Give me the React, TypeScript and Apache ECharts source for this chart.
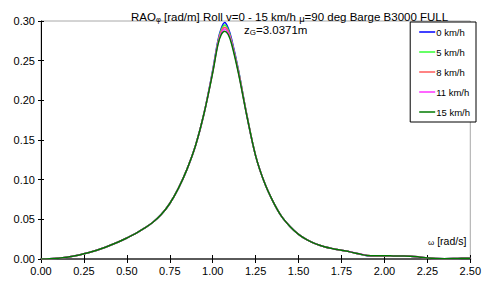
import React, { useEffect, useRef } from 'react';
import * as echarts from 'echarts';

// Wave frequency ω [rad/s]
const omega = [
  0, 0.05, 0.1, 0.15, 0.2, 0.25, 0.3, 0.35, 0.4, 0.45, 0.5, 0.55, 0.6, 0.65, 0.7, 0.75, 0.8, 0.85, 0.9, 0.95,
  1.0, 1.03, 1.05, 1.07, 1.09, 1.11, 1.15, 1.2, 1.25, 1.3, 1.35, 1.4, 1.45, 1.5, 1.55, 1.6, 1.65, 1.7, 1.75,
  1.8, 1.85, 1.9, 1.95, 2.0, 2.05, 2.1, 2.15, 2.2, 2.25, 2.3, 2.35, 2.4, 2.45, 2.5,
];

// Roll RAO [rad/m] per forward speed
const rao0 = [
  0.0, 0.0003, 0.001, 0.0022, 0.004, 0.0065, 0.0095, 0.013, 0.017, 0.0215, 0.0265, 0.032, 0.0385, 0.046, 0.056, 0.07, 0.089, 0.113, 0.143, 0.184,
  0.238, 0.275, 0.291, 0.298, 0.291, 0.277, 0.238, 0.18, 0.13, 0.097, 0.073, 0.054, 0.041, 0.031, 0.024, 0.019, 0.0155, 0.013, 0.011,
  0.009, 0.0065, 0.0042, 0.0038, 0.0038, 0.0038, 0.0037, 0.0035, 0.0025, 0.0012, 0.0005, 0.0004, 0.0005, 0.0008, 0.001,
];
const rao5 = [
  0.0, 0.0003, 0.001, 0.0022, 0.004, 0.0065, 0.0095, 0.013, 0.017, 0.0215, 0.0265, 0.032, 0.0385, 0.046, 0.056, 0.07, 0.089, 0.113, 0.143, 0.184,
  0.237, 0.273, 0.289, 0.295, 0.289, 0.275, 0.237, 0.18, 0.13, 0.097, 0.073, 0.054, 0.041, 0.031, 0.024, 0.019, 0.0155, 0.013, 0.011,
  0.009, 0.0065, 0.0043, 0.0039, 0.0039, 0.0038, 0.0037, 0.0035, 0.0025, 0.0012, 0.0005, 0.0004, 0.0005, 0.0008, 0.001,
];
const rao8 = [
  0.0, 0.0003, 0.001, 0.0022, 0.004, 0.0065, 0.0095, 0.013, 0.017, 0.0215, 0.0265, 0.032, 0.0385, 0.046, 0.056, 0.07, 0.089, 0.113, 0.143, 0.184,
  0.236, 0.272, 0.287, 0.292, 0.287, 0.274, 0.236, 0.18, 0.13, 0.097, 0.073, 0.054, 0.041, 0.031, 0.024, 0.019, 0.0155, 0.013, 0.011,
  0.009, 0.0066, 0.0044, 0.004, 0.004, 0.0039, 0.0038, 0.0036, 0.0026, 0.0012, 0.0005, 0.0004, 0.0005, 0.0008, 0.001,
];
const rao11 = [
  0.0, 0.0003, 0.001, 0.0022, 0.004, 0.0065, 0.0095, 0.013, 0.017, 0.0215, 0.0265, 0.032, 0.0385, 0.046, 0.056, 0.07, 0.089, 0.113, 0.143, 0.184,
  0.236, 0.271, 0.285, 0.29, 0.285, 0.273, 0.235, 0.179, 0.13, 0.097, 0.073, 0.054, 0.041, 0.031, 0.024, 0.019, 0.0155, 0.013, 0.011,
  0.009, 0.0067, 0.0045, 0.0041, 0.004, 0.0039, 0.0038, 0.0036, 0.0026, 0.0013, 0.0005, 0.0004, 0.0005, 0.0008, 0.001,
];
const rao15 = [
  0.0, 0.0003, 0.001, 0.0022, 0.004, 0.0065, 0.0095, 0.013, 0.017, 0.0215, 0.0265, 0.032, 0.0385, 0.046, 0.056, 0.07, 0.089, 0.113, 0.143, 0.184,
  0.235, 0.27, 0.283, 0.287, 0.283, 0.271, 0.234, 0.179, 0.13, 0.097, 0.073, 0.054, 0.041, 0.031, 0.024, 0.019, 0.0155, 0.013, 0.011,
  0.009, 0.0066, 0.0044, 0.004, 0.004, 0.0039, 0.0038, 0.0036, 0.0026, 0.0012, 0.0005, 0.0004, 0.0005, 0.0008, 0.001,
];

const seriesNames = ['0 km/h', '5 km/h', '8 km/h', '11 km/h', '15 km/h'];
const seriesValues = [rao0, rao5, rao8, rao11, rao15];
const seriesColors = ['#0000ff', '#33ff33', '#ff5a5a', '#ff33ff', '#007a00'];

const xMin = 0;
const xMax = 2.5;
const xStep = 0.25;
const yMin = 0;
const yMax = 0.3;
const yStep = 0.05;

const FONT = '"Liberation Sans", Arial, Helvetica, sans-serif';

export default function App() {
  const ref = useRef<HTMLDivElement>(null);

  useEffect(() => {
    if (!ref.current) return;
    const chart = echarts.init(ref.current, undefined, { renderer: 'svg' });

    const series = seriesNames.map((name, i) => ({
      name,
      type: 'line',
      xAxisIndex: 0,
      yAxisIndex: 0,
      data: omega.map((w, j) => [w, seriesValues[i][j]]),
      symbol: 'none',
      smooth: 0.35,
      color: seriesColors[i],
      lineStyle: { width: 1.5, color: seriesColors[i] },
      z: 3 + i,
    }));

    const baseX = {
      type: 'value',
      min: xMin,
      max: xMax,
      interval: xStep,
      position: 'bottom',
      splitLine: { show: false },
    };
    const baseY = {
      type: 'value',
      min: yMin,
      max: yMax,
      interval: yStep,
      position: 'left',
      splitLine: { show: false },
    };

    chart.setOption({
      animation: false,
      backgroundColor: '#ffffff',
      textStyle: { fontFamily: FONT },
      title: {
        left: 126,
        top: 4,
        text: '{a|RAO}{b|φ}{a| [rad/m] Roll v=0 - 15 km/h }{m|μ}{a|=90 deg Barge B3000 FULL}',
        textStyle: {
          fontWeight: 'normal',
          rich: {
            a: { fontSize: 11.5, fontWeight: 'normal', fontFamily: FONT, color: '#000', lineHeight: 14, verticalAlign: 'bottom' },
            b: { fontSize: 7.5, fontWeight: 'normal', fontFamily: FONT, color: '#000', lineHeight: 8, verticalAlign: 'bottom' },
            m: { fontSize: 9.5, fontWeight: 'normal', fontFamily: FONT, color: '#000', lineHeight: 11, verticalAlign: 'bottom' },
          },
        },
      },
      legend: {
        orient: 'vertical',
        right: 8,
        top: 22,
        data: seriesNames,
        icon: 'rect',
        backgroundColor: '#ffffff',
        borderColor: '#000000',
        borderWidth: 1,
        borderRadius: 0,
        padding: [5, 6, 5, 9],
        itemWidth: 16,
        itemHeight: 1.5,
        itemGap: 10,
        textStyle: { fontSize: 9.5, lineHeight: 10, color: '#000', fontFamily: FONT, padding: [0, 0, 0, -4] },
      },
      grid: {
        left: 41,
        right: 10,
        top: 21,
        bottom: 23,
        show: true,
        borderColor: '#a8a8a8',
        borderWidth: 1,
        backgroundColor: 'transparent',
      },
      xAxis: [
        {
          ...baseX,
          axisLine: { show: true, lineStyle: { color: '#5a5a5a', width: 2 } },
          axisTick: { show: true, inside: false, length: 4, lineStyle: { color: '#000', width: 1 } },
          axisLabel: {
            show: true,
            margin: 6,
            fontSize: 11,
            color: '#000',
            fontFamily: FONT,
            formatter: (v: number) => v.toFixed(2),
          },
        },
        {
          ...baseX,
          axisLine: { show: false },
          axisTick: { show: true, inside: true, length: 4, lineStyle: { color: '#000', width: 1 } },
          axisLabel: { show: false },
        },
      ],
      yAxis: [
        {
          ...baseY,
          axisLine: { show: true, lineStyle: { color: '#000', width: 1 } },
          axisTick: { show: true, inside: false, length: 3, lineStyle: { color: '#000', width: 1 } },
          axisLabel: {
            show: true,
            margin: 6,
            fontSize: 11,
            color: '#000',
            fontFamily: FONT,
            formatter: (v: number) => v.toFixed(2),
          },
        },
        {
          ...baseY,
          axisLine: { show: false },
          axisTick: { show: true, inside: true, length: 3, lineStyle: { color: '#000', width: 1 } },
          axisLabel: { show: false },
        },
      ],
      graphic: [
        {
          type: 'text',
          left: 244,
          top: 24,
          z: 10,
          style: {
            text: '{a|z}{b|G}{a|=3.0371m}',
            rich: {
              a: { fontSize: 11.5, fontFamily: FONT, fill: '#000', lineHeight: 14, verticalAlign: 'bottom' },
              b: { fontSize: 8, fontFamily: FONT, fill: '#000', lineHeight: 9, verticalAlign: 'bottom' },
            },
          },
        },
        {
          type: 'text',
          left: 428,
          top: 235,
          z: 10,
          style: {
            text: '{w|ω}{a| [rad/s]}',
            rich: {
              w: { fontSize: 8, fontFamily: FONT, fill: '#000', lineHeight: 14, verticalAlign: 'bottom' },
              a: { fontSize: 10.5, fontFamily: FONT, fill: '#000', lineHeight: 14, verticalAlign: 'bottom' },
            },
          },
        },
      ],
      series,
    });

    return () => {
      chart.dispose();
    };
  }, []);

  return (
    <div
      ref={ref}
      style={{ position: 'fixed', left: 0, top: 0, width: 484, height: 282, background: '#fff' }}
    />
  );
}
